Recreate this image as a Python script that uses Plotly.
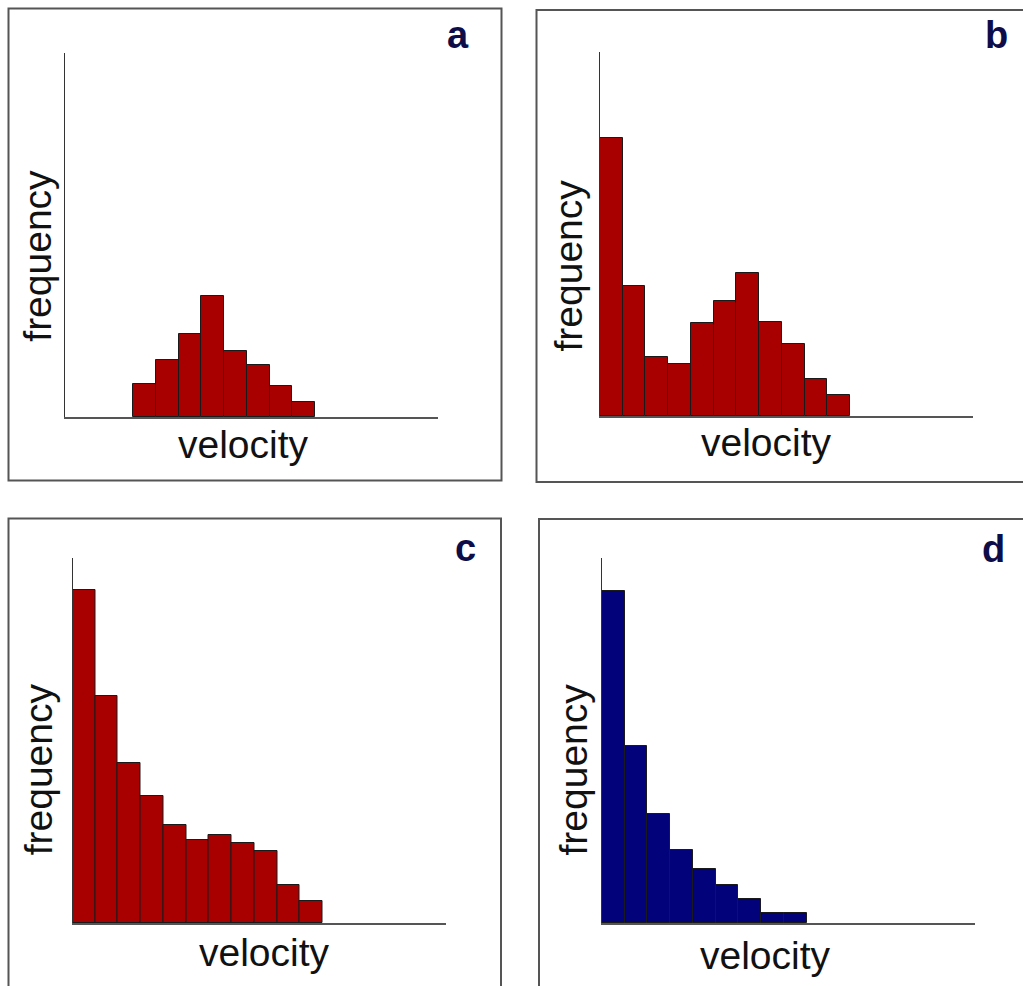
import plotly.graph_objects as go

W, H = 1023, 986

# ---- data (arbitrary frequency units, bins of equal velocity width) ----
a_start = 3
a_freq = [33, 57, 83, 121, 66, 52, 31, 15]
b_start = 0
b_freq = [279, 130, 59, 52, 93, 115, 143, 94, 72, 37, 21]
c_start = 0
c_freq = [333, 227, 160, 127, 98, 83, 88, 80, 72, 38, 22]
d_start = 0
d_freq = [332, 177, 109, 73, 54, 38, 24, 10, 10]

panel_labels = ["a", "b", "c", "d"]
x_title = "velocity"
y_title = "frequency"

RED = "#a80000"
BLUE = "#02027a"

def px_x(v):
    return v / W

def px_y(v):
    return 1 - v / H

# panel geometry in pixels: (axis left, axis right, axis top, axis bottom)
geom = [
    (65, 438, 53, 417),
    (600, 973, 52, 416),
    (72.5, 445.5, 558, 923),
    (602, 975, 558, 923),
]
XMAX = 16.4
YMAX = 365

series = [
    (a_start, a_freq, RED),
    (b_start, b_freq, RED),
    (c_start, c_freq, RED),
    (d_start, d_freq, BLUE),
]

fig = go.Figure()
layout = dict(
    width=W, height=H, margin=dict(l=0, r=0, t=0, b=0),
    paper_bgcolor="white", plot_bgcolor="white",
    showlegend=False, bargap=0,
)

for i, ((start, freq, col), (xl, xr, yt, yb)) in enumerate(zip(series, geom)):
    n = i + 1
    xa = "x" if n == 1 else f"x{n}"
    ya = "y" if n == 1 else f"y{n}"
    xs = [start + k + 0.5 for k in range(len(freq))]
    fig.add_trace(go.Bar(
        x=xs, y=freq, width=[1] * len(freq), xaxis=xa, yaxis=ya,
        marker=dict(color=col, line=dict(color="#1a1a1a", width=1)),
        hoverinfo="skip",
    ))
    axis_common = dict(showgrid=False, zeroline=False, showticklabels=False,
                       ticks="", fixedrange=True)
    layout["xaxis" if n == 1 else f"xaxis{n}"] = dict(
        domain=[px_x(xl), px_x(xr)], range=[0, XMAX], anchor=ya,
        showline=True, linecolor="#555555", linewidth=2, **axis_common)
    layout["yaxis" if n == 1 else f"yaxis{n}"] = dict(
        domain=[px_y(yb), px_y(yt)], range=[0, YMAX], anchor=xa,
        showline=True, linecolor="#333333", linewidth=1.2, **axis_common)

fig.update_layout(**layout)

# panel frames
boxes = [
    (8.5, 501.5, 8.5, 480.5),
    (536.5, 1040, 10, 482),
    (8.5, 501, 518.5, 1000),
    (539, 1040, 519, 1000),
]
for (x0, x1, y0, y1) in boxes:
    fig.add_shape(type="rect", xref="paper", yref="paper",
                  x0=px_x(x0), x1=px_x(x1), y0=px_y(y1), y1=px_y(y0),
                  line=dict(color="#555555", width=2), fillcolor="rgba(0,0,0,0)")

FONT = "Liberation Sans, Arial, Helvetica, sans-serif"
vel_pos = [(243, 444), (766.7, 442), (264.7, 952), (765.8, 955)]
freq_pos = [(36.7, 256), (567.5, 266), (38.3, 769), (572.5, 770)]
lab_pos = [(458, 35), (996.7, 35), (465, 548), (993.3, 549)]

for i in range(4):
    vx, vy = vel_pos[i]
    fig.add_annotation(x=px_x(vx), y=px_y(vy), xref="paper", yref="paper",
                       text=x_title, showarrow=False, xanchor="center", yanchor="middle",
                       font=dict(family=FONT, size=39, color="#111111"))
    fx, fy = freq_pos[i]
    fig.add_annotation(x=px_x(fx), y=px_y(fy), xref="paper", yref="paper",
                       text=y_title, showarrow=False, xanchor="center", yanchor="middle",
                       textangle=-90,
                       font=dict(family=FONT, size=39, color="#111111"))
    lx, ly = lab_pos[i]
    fig.add_annotation(x=px_x(lx), y=px_y(ly), xref="paper", yref="paper",
                       text=f"<b>{panel_labels[i]}</b>", showarrow=False,
                       xanchor="center", yanchor="middle",
                       font=dict(family=FONT, size=38, color="#0d0d4a"))

fig.write_html("out.html")
